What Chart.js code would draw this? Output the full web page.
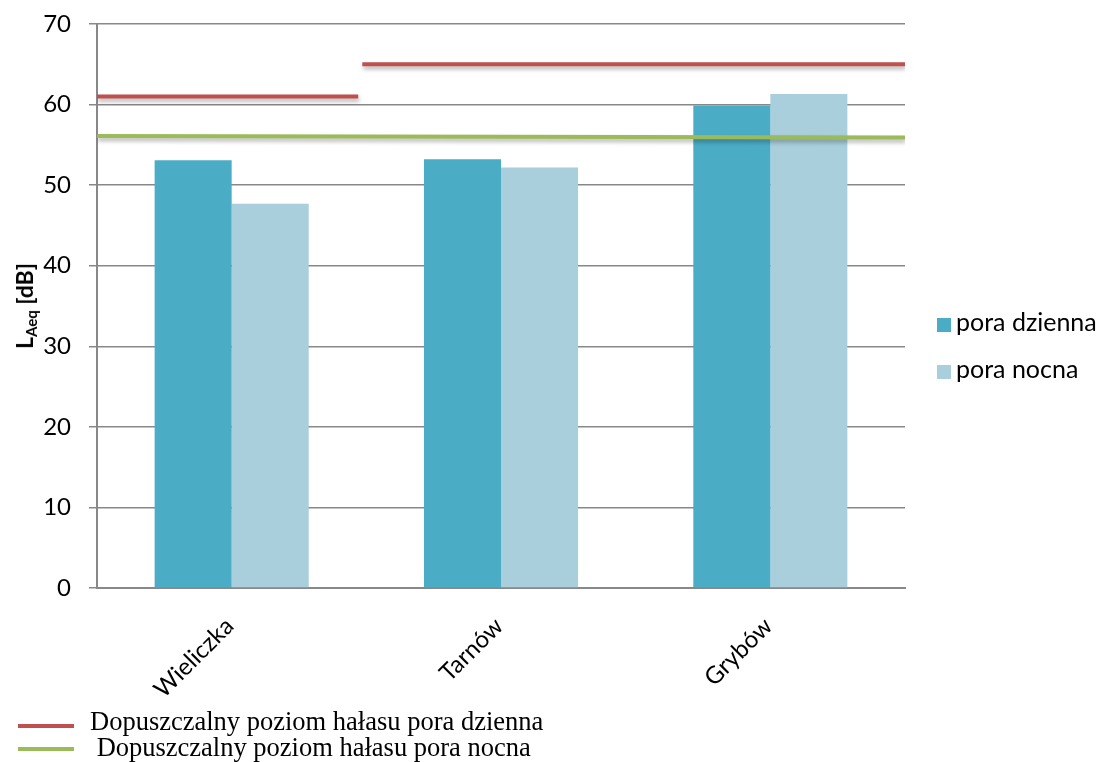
<!DOCTYPE html>
<html>
<head>
<meta charset="utf-8">
<script src="https://cdn.jsdelivr.net/npm/chart.js@4.4.1/dist/chart.umd.min.js"></script>
<style>
  html, body { margin: 0; padding: 0; background: #fff; }
  #wrap { position: relative; width: 1099px; height: 762px; overflow: hidden; background: #fff; }
  #bars, #limits { position: absolute; left: 0; top: 0; }
  .ytitle {
    position: absolute; left: 25px; top: 306px;
    transform: translate(-50%, -50%) rotate(-90deg);
    font: bold 23px Lato, "Liberation Sans", sans-serif; color: #000; white-space: nowrap;
  }
  .ytitle sub { font-size: 15px; vertical-align: -4px; }
  .legend-right { position: absolute; left: 937px; top: 0; font: 25px Lato, "Liberation Sans", sans-serif; color: #000; }
  .legend-right .item { position: absolute; left: 0; white-space: nowrap; height: 26px; line-height: 26px; }
  .legend-right .sw { display: inline-block; width: 14px; height: 14px; margin-right: 5px; vertical-align: -1px; }
  .legend-bottom { position: absolute; left: 0; top: 0; font: 26.5px "Liberation Serif", "Times New Roman", serif; color: #000; }
  .legend-bottom .item { position: absolute; white-space: pre; line-height: 30px; }
  .legend-bottom .ln { position: absolute; width: 56px; height: 4px; }
</style>
</head>
<body>
<div id="wrap">
  <canvas id="bars" width="1099" height="762"></canvas>
  <canvas id="limits" width="1099" height="762"></canvas>
  <div class="ytitle">L<sub>Aeq</sub> [dB]</div>
  <div class="legend-right" id="legendRight"></div>
  <div class="legend-bottom" id="legendBottom"></div>
</div>
<script>
// Measured equivalent sound levels per town
const categories = ['Wieliczka', 'Tarnów', 'Grybów'];
const dayValues = [53.1, 53.2, 59.9];
const nightValues = [47.7, 52.2, 61.3];
const yTicks = [0, 10, 20, 30, 40, 50, 60, 70];

// Permissible noise levels, as segments along the category span (x runs 0..3)
const dayLimitX = [0, 0.97, 0.975, 0.985, 3];
const dayLimitY = [61.0, 61.0, null, 65.0, 65.0];
const nightLimitX = [0, 3];
const nightLimitY = [56.1, 55.9];

const seriesNames = ['pora dzienna', 'pora nocna'];
const limitNames = ['Dopuszczalny poziom hałasu pora dzienna', ' Dopuszczalny poziom hałasu pora nocna'];

const COL_DAY = '#4BACC6';
const COL_NIGHT = '#A9CEDC';
const COL_RED = '#C0504D';
const COL_GREEN = '#9BBB59';
const COL_GRID = '#888888';
const FONT = 'Lato, "Liberation Sans", sans-serif';

// Shared plot frame (both canvases use the same chart area)
const AREA = { left: 97, right: 194, top: 24, bottom: 174 };

const toPoints = (xs, ys) => xs.map((x, i) => ({ x: x, y: ys[i] }));

// Bar chart with axes
new Chart(document.getElementById('bars'), {
  type: 'bar',
  data: {
    labels: categories,
    datasets: [
      { label: seriesNames[0], data: dayValues, backgroundColor: COL_DAY, borderWidth: 0,
        categoryPercentage: 0.572, barPercentage: 1.0 },
      { label: seriesNames[1], data: nightValues, backgroundColor: COL_NIGHT, borderWidth: 0,
        categoryPercentage: 0.572, barPercentage: 1.0 }
    ]
  },
  options: {
    responsive: false,
    animation: false,
    devicePixelRatio: 1,
    layout: { padding: { left: 0, right: AREA.right, top: AREA.top, bottom: 0 } },
    plugins: { legend: { display: false }, tooltip: { enabled: false } },
    scales: {
      x: {
        type: 'category',
        offset: true,
        grid: { display: false },
        border: { display: true, color: COL_GRID, width: 2 },
        ticks: { minRotation: 45, maxRotation: 45, padding: 16, labelOffset: -2, color: '#000',
                 font: { family: FONT, size: 24 } },
        afterFit: s => { s.height = AREA.bottom; s.paddingLeft = 0; s.paddingRight = 0; }
      },
      y: {
        min: yTicks[0], max: yTicks[yTicks.length - 1],
        afterBuildTicks: s => { s.ticks = yTicks.map(v => ({ value: v })); },
        grid: { color: COL_GRID, lineWidth: 1.5, tickLength: 8 },
        border: { display: true, color: COL_GRID, width: 2 },
        ticks: { padding: 18, color: '#000', font: { family: FONT, size: 24 } },
        afterFit: s => { s.width = AREA.left; s.paddingTop = 0; s.paddingBottom = 0; }
      }
    }
  }
});

// Soft drop shadow under the limit lines
const lineShadow = {
  id: 'lineShadow',
  beforeDatasetsDraw(chart) {
    const c = chart.ctx;
    c.save();
    c.shadowColor = 'rgba(0,0,0,0.30)';
    c.shadowBlur = 4;
    c.shadowOffsetX = 1;
    c.shadowOffsetY = 3;
  },
  afterDatasetsDraw(chart) { chart.ctx.restore(); }
};

// Limit lines, laid over the bars on the same value scale
new Chart(document.getElementById('limits'), {
  type: 'line',
  data: {
    datasets: [
      { label: limitNames[0], data: toPoints(dayLimitX, dayLimitY), borderColor: COL_RED,
        borderWidth: 4, pointRadius: 0, spanGaps: false, borderCapStyle: 'butt', tension: 0 },
      { label: limitNames[1], data: toPoints(nightLimitX, nightLimitY), borderColor: COL_GREEN,
        borderWidth: 4, pointRadius: 0, borderCapStyle: 'butt', tension: 0 }
    ]
  },
  options: {
    responsive: false,
    animation: false,
    devicePixelRatio: 1,
    layout: { padding: AREA },
    plugins: { legend: { display: false }, tooltip: { enabled: false } },
    scales: {
      x: { type: 'linear', min: 0, max: 3, display: false },
      y: { type: 'linear', min: yTicks[0], max: yTicks[yTicks.length - 1], display: false }
    }
  },
  plugins: [lineShadow]
});

// Series legend on the right
const lr = document.getElementById('legendRight');
[COL_DAY, COL_NIGHT].forEach((c, i) => {
  const d = document.createElement('div');
  d.className = 'item';
  d.style.top = (308 + i * 47) + 'px';
  d.innerHTML = '<span class="sw" style="background:' + c + '"></span>' + seriesNames[i];
  lr.appendChild(d);
});

// Limit-line legend at the bottom
const lb = document.getElementById('legendBottom');
[COL_RED, COL_GREEN].forEach((c, i) => {
  const ln = document.createElement('div');
  ln.className = 'ln';
  ln.style.left = '18px';
  ln.style.top = (724 + i * 23) + 'px';
  ln.style.background = c;
  lb.appendChild(ln);
  const t = document.createElement('div');
  t.className = 'item';
  t.style.left = '90px';
  t.style.top = (706 + i * 26) + 'px';
  t.textContent = limitNames[i];
  lb.appendChild(t);
});
</script>
</body>
</html>
